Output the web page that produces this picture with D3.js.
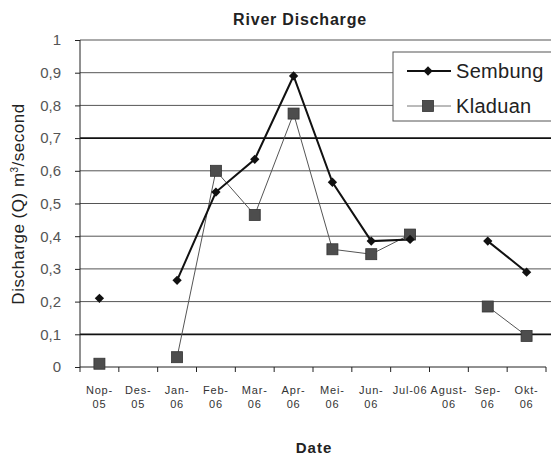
<!DOCTYPE html>
<html>
<head>
<meta charset="utf-8">
<script src="https://cdn.jsdelivr.net/npm/d3@7"></script>
<style>
  html, body { margin: 0; padding: 0; background: #fff; }
  svg { display: block; }
  text { font-family: "Liberation Sans", Arial, sans-serif; }
</style>
</head>
<body>
<svg id="chart" width="551" height="457"></svg>
<script>
// ---- data ----
const categories = ["Nop-05","Des-05","Jan-06","Feb-06","Mar-06","Apr-06","Mei-06","Jun-06","Jul-06","Agust-06","Sep-06","Okt-06"];
const tickLabels = [["Nop-","05"],["Des-","05"],["Jan-","06"],["Feb-","06"],["Mar-","06"],["Apr-","06"],["Mei-","06"],["Jun-","06"],["Jul-06"],["Agust-","06"],["Sep-","06"],["Okt-","06"]];
const sembung = [0.21, null, 0.265, 0.535, 0.635, 0.89, 0.565, 0.385, 0.39, null, 0.385, 0.29];
const kladuan = [0.01, null, 0.03, 0.60, 0.465, 0.775, 0.36, 0.345, 0.405, null, 0.185, 0.095];
const yTicks = [0, 0.1, 0.2, 0.3, 0.4, 0.5, 0.6, 0.7, 0.8, 0.9, 1];
const seriesNames = ["Sembung", "Kladuan"];

(function () {
// ---- layout ----
const svg = d3.select("#chart");
const pLeft = 80, pRight = 546, pTop = 40, pBottom = 367;

const x = d3.scaleBand().domain(categories).range([pLeft, pRight]).padding(0);
const y = d3.scaleLinear().domain([0, 1]).range([pBottom, pTop]);
const cx = c => x(c) + x.bandwidth() / 2;
const isBold = d => Math.abs(d - 0.7) < 1e-9 || Math.abs(d - 0.1) < 1e-9;

// gridlines
svg.append("g").selectAll("line")
  .data(yTicks.filter(d => d > 0))
  .join("line")
  .attr("x1", pLeft).attr("x2", 551)
  .attr("y1", d => y(d)).attr("y2", d => y(d))
  .attr("stroke", d => isBold(d) ? "#111" : "#555")
  .attr("stroke-width", d => isBold(d) ? 1.8 : 1);

// y axis
const yAxis = d3.axisLeft(y).tickValues(yTicks).tickSize(5)
  .tickFormat(d => d3.format(".1~f")(d).replace(".", ","));
const gy = svg.append("g").attr("transform", `translate(${pLeft},0)`).call(yAxis);
gy.select(".domain").attr("stroke", "#222").attr("d", `M0,${pTop}V${pBottom}`);
gy.selectAll(".tick line").attr("stroke", "#222");
gy.selectAll(".tick text").attr("font-size", 15).attr("fill", "#555").attr("x", -19)
  .attr("font-family", "Liberation Sans, Arial, sans-serif");

// x axis
const xAxis = d3.axisBottom(x).tickSize(0).tickFormat("");
const gx = svg.append("g").attr("transform", `translate(0,${pBottom})`).call(xAxis);
gx.select(".domain").attr("stroke", "#222").attr("d", `M${pLeft},0H${pRight}`);
gx.selectAll(".tick").remove();
gx.selectAll("line.bt").data(categories.concat(["_end"])).join("line")
  .attr("class", "bt")
  .attr("x1", (c, i) => i < categories.length ? x(c) : pRight)
  .attr("x2", (c, i) => i < categories.length ? x(c) : pRight)
  .attr("y1", 0).attr("y2", 5).attr("stroke", "#222");

const xl = svg.append("g");
categories.forEach((c, i) => {
  const t = xl.append("text").attr("x", cx(c)).attr("y", 394)
    .attr("text-anchor", "middle").attr("font-size", 11).attr("letter-spacing", 0.8).attr("fill", "#333");
  tickLabels[i].forEach((ln, j) => {
    t.append("tspan").attr("x", cx(c)).attr("dy", j === 0 ? 0 : 14).text(ln);
  });
});

// lines
const line = d3.line()
  .defined(d => d.v !== null)
  .x(d => cx(d.c)).y(d => y(d.v));

const sData = categories.map((c, i) => ({ c, v: sembung[i] }));
const kData = categories.map((c, i) => ({ c, v: kladuan[i] }));

svg.append("path").datum(kData).attr("d", line)
  .attr("fill", "none").attr("stroke", "#555").attr("stroke-width", 1);
svg.append("path").datum(sData).attr("d", line)
  .attr("fill", "none").attr("stroke", "#111").attr("stroke-width", 2);

const sq = 11;
svg.append("g").selectAll("rect").data(kData.filter(d => d.v !== null)).join("rect")
  .attr("x", d => cx(d.c) - sq / 2).attr("y", d => y(d.v) - sq / 2)
  .attr("width", sq).attr("height", sq)
  .attr("fill", "#4d4d4d").attr("stroke", "#333").attr("stroke-width", 0.8);

const diamond = d3.symbol().type(d3.symbolDiamond2).size(55);
svg.append("g").selectAll("path").data(sData.filter(d => d.v !== null)).join("path")
  .attr("transform", d => `translate(${cx(d.c)},${y(d.v)})`)
  .attr("d", diamond).attr("fill", "#111");

// legend
const lg = svg.append("g");
lg.append("rect").attr("x", 393).attr("y", 52).attr("width", 170).attr("height", 69)
  .attr("fill", "#fff").attr("stroke", "#555").attr("stroke-width", 1);
const rows = [71, 106];
lg.append("line").attr("x1", 407).attr("x2", 451).attr("y1", rows[0]).attr("y2", rows[0])
  .attr("stroke", "#111").attr("stroke-width", 2);
lg.append("path").attr("transform", `translate(428,${rows[0]})`).attr("d", diamond).attr("fill", "#111");
lg.append("line").attr("x1", 407).attr("x2", 451).attr("y1", rows[1]).attr("y2", rows[1])
  .attr("stroke", "#777").attr("stroke-width", 1);
lg.append("rect").attr("x", 428 - sq / 2).attr("y", rows[1] - sq / 2).attr("width", sq).attr("height", sq)
  .attr("fill", "#4d4d4d").attr("stroke", "#333").attr("stroke-width", 0.8);
lg.selectAll("text.lt").data(seriesNames).join("text").attr("class", "lt")
  .attr("x", 456).attr("y", (d, i) => rows[i] + 7)
  .attr("font-size", 20).attr("fill", "#222").attr("letter-spacing", 0.3).text(d => d);

// titles
svg.append("text").attr("x", 300).attr("y", 25).attr("text-anchor", "middle")
  .attr("font-size", 16).attr("font-weight", "bold").attr("letter-spacing", 0.8)
  .attr("fill", "#222").text("River Discharge");
svg.append("text").attr("x", 314).attr("y", 453).attr("text-anchor", "middle")
  .attr("font-size", 15).attr("font-weight", "bold").attr("letter-spacing", 1)
  .attr("fill", "#222").text("Date");
const yl = svg.append("text").attr("transform", "translate(24,204) rotate(-90)")
  .attr("text-anchor", "middle").attr("font-size", 17).attr("letter-spacing", 0.5).attr("fill", "#222");
yl.append("tspan").text("Discharge (Q) m");
yl.append("tspan").attr("font-size", 10).attr("dy", -6).text("3");
yl.append("tspan").attr("dy", 6).text("/second");
})();
</script>
</body>
</html>
